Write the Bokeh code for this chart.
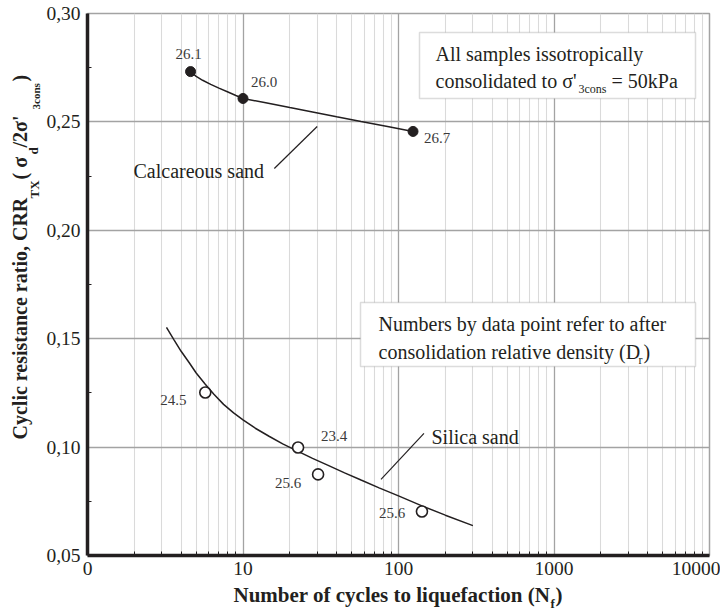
import math
from bokeh.plotting import figure
from bokeh.layouts import row, column
from bokeh.models import (Range1d, FixedTicker, CustomJSTickFormatter, Label,
                          BoxAnnotation, ColumnDataSource)
from bokeh.embed import file_html
from bokeh.resources import INLINE
from bokeh.core.properties import value

# ---------------- data ----------------
calc_n = [4.6, 10.0, 124.0]
calc_crr = [0.2732, 0.2608, 0.2456]
calc_dr = ["26.1", "26.0", "26.7"]

calc_fit_n = [4.6, 5.0, 5.5, 6.2, 7.0, 8.0, 9.0, 10.0, 14.0, 20.0, 28.0, 40.0, 57.4, 85.0, 124.0]
calc_fit_crr = [0.2732, 0.2710, 0.2692, 0.2673, 0.2656, 0.2638, 0.2622, 0.2608, 0.2588,
                0.2566, 0.2546, 0.2524, 0.2502, 0.2479, 0.2456]

silica_n = [5.72, 22.6, 30.4, 141.5]
silica_crr = [0.1252, 0.0998, 0.0874, 0.0703]
silica_dr = ["24.5", "23.4", "25.6", "25.6"]

silica_fit_n = [3.22, 3.6, 4.0, 4.5, 5.0, 5.72, 6.5, 7.5, 8.7, 10.0, 12.0, 14.7, 18.0,
                22.6, 28.0, 35.0, 45.0, 57.4, 75.0, 100.0, 141.5, 200.0, 301.0]
silica_fit_crr = [0.1552, 0.1495, 0.1442, 0.1390, 0.1342, 0.1290, 0.1244, 0.1197, 0.1158,
                  0.1126, 0.1087, 0.1050, 0.1015, 0.0980, 0.0948, 0.0917, 0.0881, 0.0848,
                  0.0812, 0.0775, 0.0729, 0.0686, 0.0638]

x_ticks = [1, 10, 100, 1000, 10000]
x_tick_labels = ["0", "10", "100", "1000", "10000"]
x_minor_ticks = [k * 10 ** d for d in range(4) for k in range(2, 10)]
y_ticks = [0.05, 0.10, 0.15, 0.20, 0.25, 0.30]
y_tick_labels = ["0,05", "0,10", "0,15", "0,20", "0,25", "0,30"]
y_minor_ticks = [0.075, 0.125, 0.175, 0.225, 0.275]

# callout leader lines (annotation positions)
leader_n0 = [15.9, 77.2]
leader_crr0 = [0.2285, 0.0851]
leader_n1 = [30.0, 145.8]
leader_crr1 = [0.2479, 0.1063]

# label offsets (layout, screen px, to the text's left / vertical centre)
calc_dx = [-15, 8, 11]
calc_dy = [-18, -16, 7]
silica_dx = [-45, 23, -43, -43]
silica_dy = [8, -12, 9, 2]

INK = "#231f20"
FONT = "Liberation Serif"
W, H = 720, 613
YW = 43            # width of the y-title strip
XH = 30            # height of the x-title strip
FL, FR, FT, FB = 86, 709, 13, 555   # frame edges in page pixels

p = figure(width=W - YW, height=H - XH, x_axis_type="log",
           x_range=Range1d(1, 10000), y_range=Range1d(0.05, 0.30),
           output_backend="svg", toolbar_location=None,
           min_border_left=FL - YW, min_border_right=W - FR,
           min_border_top=FT, min_border_bottom=(H - XH) - FB,
           background_fill_color="white", border_fill_color="white")

p.outline_line_color = "#a3a3a3"
p.outline_line_width = 1.5

xt = FixedTicker(ticks=x_ticks, minor_ticks=x_minor_ticks)
yt = FixedTicker(ticks=y_ticks, minor_ticks=y_minor_ticks)
p.xaxis.ticker = xt
p.yaxis.ticker = yt
p.xgrid.ticker = xt
p.ygrid.ticker = yt

p.xaxis.formatter = CustomJSTickFormatter(args=dict(tvals=x_ticks, tlabels=x_tick_labels), code="""
for (let i = 0; i < tvals.length; i++) { if (Math.abs(tvals[i] - tick) <= 1e-6 * Math.max(1, tvals[i])) return tlabels[i]; }
return "";
""")
p.yaxis.formatter = CustomJSTickFormatter(args=dict(tvals=y_ticks, tlabels=y_tick_labels), code="""
for (let i = 0; i < tvals.length; i++) { if (Math.abs(tvals[i] - tick) < 1e-6) return tlabels[i]; }
return "";
""")

for ax in (p.xaxis, p.yaxis):
    ax.axis_line_color = INK
    ax.axis_line_width = 3.5
    ax.major_tick_in = 0
    ax.major_tick_out = 0
    ax.minor_tick_in = 4
    ax.minor_tick_out = 0
    ax.minor_tick_line_color = INK
    ax.major_label_text_font = FONT
    ax.major_label_text_font_size = "19.5px"
    ax.major_label_text_color = INK
p.yaxis.major_label_standoff = 7
p.xaxis.major_label_standoff = 6

p.xgrid.grid_line_color = "#a3a3a3"
p.xgrid.grid_line_width = 1.3
p.xgrid.minor_grid_line_color = "#dadada"
p.xgrid.minor_grid_line_width = 1.1
p.ygrid.grid_line_color = "#a3a3a3"
p.ygrid.grid_line_width = 1.3

# curves
p.line(calc_fit_n, calc_fit_crr, line_color=INK, line_width=1.5)
p.line(silica_fit_n, silica_fit_crr, line_color=INK, line_width=1.5)

# callout leaders
p.segment(x0=leader_n0, y0=leader_crr0, x1=leader_n1, y1=leader_crr1, line_color=INK, line_width=1.2)

# points
p.scatter(calc_n, calc_crr, marker="circle", size=10, fill_color=INK, line_color=INK)
p.scatter(silica_n, silica_crr, marker="circle", size=11, fill_color="white", line_color=INK, line_width=1.6)

# point labels
src_c = ColumnDataSource(dict(x=calc_n, y=calc_crr, t=calc_dr, dx=calc_dx, dy=calc_dy))
src_s = ColumnDataSource(dict(x=silica_n, y=silica_crr, t=silica_dr, dx=silica_dx, dy=silica_dy))
for src in (src_c, src_s):
    p.text(x="x", y="y", text="t", x_offset="dx", y_offset="dy", source=src,
           text_font=value(FONT), text_font_size=value("15px"), text_color="#3a3a3a",
           text_align="left", text_baseline="middle")


def mid(baseline, size):
    # vertical centre of the text box for a given baseline
    return baseline - 0.3375 * size


def label(fig, x, y, text, size, bold=False, angle=0.0):
    # frame-relative screen units (origin at frame bottom-left, y up)
    fig.add_layout(Label(x=x, y=y, x_units="screen", y_units="screen", text=text,
                         text_font=FONT, text_font_size=f"{size}px",
                         text_font_style="bold" if bold else "normal",
                         angle=angle, angle_units="rad",
                         text_align="left", text_baseline="middle", text_color=INK))


def add_text(px, py, text, size, bold=False):
    label(p, px - FL, FB - mid(py, size), text, size, bold)


def add_box(l, t, r, b):
    p.add_layout(BoxAnnotation(left=l - FL, right=r - FL, top=FB - t, bottom=FB - b,
                               left_units="screen", right_units="screen",
                               top_units="screen", bottom_units="screen",
                               fill_color="white", fill_alpha=1.0,
                               line_color="#8c8c8c", line_width=1.5))


# callout texts
add_text(132, 177, "Calcareous sand", 20)
add_text(430, 443, "Silica sand", 20)

# info boxes
add_box(418, 32, 694, 98)
add_text(434, 60, "All samples issotropically", 20)
add_text(434, 87, "consolidated to σ'", 20)
add_text(577, 93, "3cons", 12)
add_text(610, 87, "= 50kPa", 20)

add_box(359, 302, 694, 366)
add_text(377, 330, "Numbers by data point refer to after", 20)
add_text(377, 358, "consolidation relative density (D", 20)
add_text(637, 364, "r", 12)
add_text(642, 358, ")", 20)


def strip(width, height):
    f = figure(width=width, height=height, x_range=Range1d(0, width), y_range=Range1d(0, height),
               x_axis_type=None, y_axis_type=None, output_backend="svg", toolbar_location=None,
               min_border=0, background_fill_color="white", border_fill_color="white")
    f.outline_line_color = None
    f.grid.visible = False
    return f


# y-axis title strip: page x 0..YW, page y 0..H-XH  (rotated text, baseline is vertical)
SH = H - XH
yfig = strip(YW, SH)
R = math.pi / 2


def ytext(base_x, start_py, text, size):
    label(yfig, base_x - 0.3375 * size, SH - start_py, text, size, True, R)


ytext(26, 467, "Cyclic resistance ratio, CRR", 20)
ytext(38, 226, "TX", 13)
ytext(26, 207, "( σ", 20)
ytext(37, 182, "d", 13)
ytext(26, 175, "/2σ'", 20)
ytext(39, 137, "3cons", 11)
ytext(26, 109, " )", 20)

# x-axis title strip: full page width, page y H-XH..H
xfig = strip(W, XH)


def xtext(px, py, text, size):
    label(xfig, px, H - mid(py, size), text, size, True)


xtext(233, 602, "Number of cycles to liquefaction (N", 21)
xtext(550, 607, "f", 13)
xtext(555, 602, ")", 21)

layout = column(row(yfig, p, spacing=0), xfig, spacing=0)

with open("out.html", "w") as f:
    f.write(file_html(layout, INLINE))
